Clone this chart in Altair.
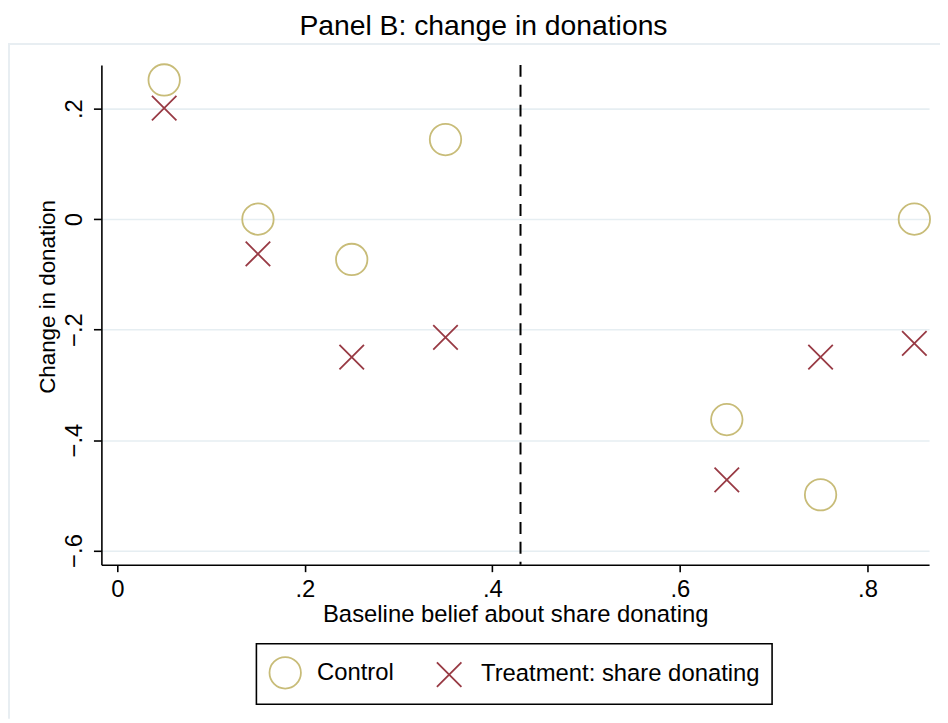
import altair as alt
import pandas as pd

# ---- data ----
x_vals = [0.05, 0.15, 0.25, 0.35, 0.65, 0.75, 0.85]
control = [0.252, 0.0, -0.073, 0.144, -0.363, -0.499, 0.0]
treatment = [0.201, -0.063, -0.250, -0.214, -0.472, -0.250, -0.225]
series_names = ["Control", "Treatment: share donating"]
cutoff = [0.43]
x_ticks = [0, 0.2, 0.4, 0.6, 0.8]
y_ticks = [-0.6, -0.4, -0.2, 0, 0.2]

df = pd.DataFrame({
    "x": x_vals + x_vals,
    "y": control + treatment,
    "group": [series_names[0]] * len(x_vals) + [series_names[1]] * len(x_vals),
})

FONT = "Liberation Sans"
KHAKI = "#C8BC78"
MAROON = "#983A44"
GRID = "#E6EEF2"
FRAME = "#E8EEF2"
X_PATH = "M-0.78,-0.78L0.78,0.78M-0.78,0.78L0.78,-0.78"
label_expr = "datum.value == 0 ? '0' : replace(format(datum.value, '.1f'), '0.', '.')"

x_scale = alt.Scale(domain=[-0.01695, 0.8657], nice=False, zero=False)
y_scale = alt.Scale(domain=[-0.6257, 0.2792], nice=False, zero=False)

x_axis = alt.Axis(
    values=x_ticks, labelExpr=label_expr, grid=False,
    title="Baseline belief about share donating",
    labelFontSize=24, labelBaseline="alphabetic", labelPadding=25,
    tickSize=7, titleX=416.5, titleY=57, titleBaseline="alphabetic",
    titleAlign="center", titleFontSize=24, titleFontWeight="normal",
    labelFont=FONT, titleFont=FONT, labelColor="black", titleColor="black",
    domainColor="black", domainWidth=1.6, tickColor="black", tickWidth=1.6,
)
y_axis = alt.Axis(
    values=y_ticks, labelExpr=label_expr, grid=True, gridColor=GRID, gridWidth=1.6,
    title="Change in donation",
    labelFontSize=24, labelAngle=270, labelAlign="center", labelBaseline="alphabetic",
    labelPadding=12, tickSize=8, titleAngle=270, titleX=-47, titleY=233,
    titleAlign="center", titleBaseline="alphabetic", titleFontSize=22.5,
    titleFontWeight="normal",
    labelFont=FONT, titleFont=FONT, labelColor="black", titleColor="black",
    domainColor="black", domainWidth=1.6, tickColor="black", tickWidth=1.6,
)

legend = alt.Legend(
    orient="none", legendX=156, legendY=582.5, direction="horizontal",
    strokeColor="black", padding=12, labelFontSize=24, labelOffset=15,
    columnPadding=38, symbolStrokeWidth=1.8, symbolSize=1000, labelLimit=500,
    labelColor="black", labelFont=FONT,
)

points = alt.Chart(df).mark_point(filled=False, size=1000, strokeWidth=1.8, opacity=1).encode(
    x=alt.X("x:Q", scale=x_scale, axis=x_axis),
    y=alt.Y("y:Q", scale=y_scale, axis=y_axis),
    shape=alt.Shape("group:N", title=None,
                    scale=alt.Scale(domain=series_names, range=["circle", X_PATH]),
                    legend=legend),
    color=alt.Color("group:N", title=None,
                    scale=alt.Scale(domain=series_names, range=[KHAKI, MAROON]),
                    legend=legend),
)

vline = alt.Chart(pd.DataFrame({"c": cutoff})).mark_rule(
    color="black", strokeWidth=2, strokeDash=[12, 8]
).encode(x=alt.X("c:Q", scale=x_scale))

frame_v = alt.Chart(pd.DataFrame({"a": [0]})).mark_rule(color=FRAME, strokeWidth=2).encode(
    x=alt.value(-93), y=alt.value(-21), y2=alt.value(658)
)
frame_h = alt.Chart(pd.DataFrame({"a": [0]})).mark_rule(color=FRAME, strokeWidth=2).encode(
    x=alt.value(-94), x2=alt.value(844), y=alt.value(-21)
)

chart = alt.layer(frame_v, frame_h, vline, points).properties(
    width=833, height=503,
    background="white",
    autosize=alt.AutoSizeParams(type="none"),
    padding={"left": 94, "top": 55, "right": 11, "bottom": 155},
    title=alt.TitleParams(
        "Panel B: change in donations", anchor="middle", frame="group",
        dx=-32, offset=-20, baseline="alphabetic", fontSize=28.5,
        fontWeight="normal", color="black", font=FONT,
    ),
).configure_view(strokeWidth=0, stroke="transparent").configure_legend(strokeWidth=1.6)

chart.save("out.html", embed_options={"renderer": "svg", "actions": False})
